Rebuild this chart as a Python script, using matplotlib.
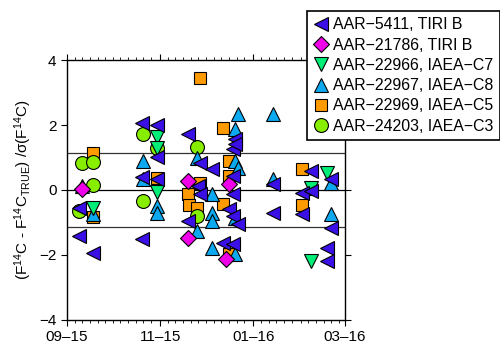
import pandas as pd
import matplotlib.pyplot as plt
import matplotlib.dates as mdates

plt.rcParams['font.family'] = ['Liberation Sans', 'DejaVu Sans']
plt.rcParams['mathtext.default'] = 'regular'

# AAR-5411, TIRI B
dates_5411 = ['2015-09-09', '2015-09-09', '2015-09-18', '2015-10-20', '2015-10-20', '2015-10-20',
              '2015-10-30', '2015-10-30', '2015-10-30', '2015-11-19', '2015-11-19', '2015-11-27',
              '2015-11-26', '2015-11-27', '2015-12-05', '2015-12-12', '2015-12-16', '2015-12-19',
              '2015-12-19', '2015-12-19', '2015-12-19', '2015-12-19', '2015-12-20', '2015-12-20',
              '2015-12-22', '2016-01-14', '2016-01-14', '2016-02-02', '2016-02-02', '2016-02-08',
              '2016-02-08', '2016-02-18', '2016-02-18', '2016-02-21', '2016-02-21']
vals_5411 = [-0.55, -1.42, -1.94, 2.07, 0.40, -1.50,
             2.00, 1.00, 0.34, 1.73, -0.96, 0.83,
             0.12, -0.12, 0.65, -1.64, -0.59, 1.27,
             0.43, -0.12, -0.80, -1.67, 1.57, 1.42,
             -1.05, 0.19, -0.71, -0.09, -0.74, 0.59,
             -0.03, -1.79, -2.19, 0.34, -1.17]

# AAR-21786, TIRI B
dates_21786 = ['2015-09-11', '2015-11-19', '2015-11-19', '2015-12-16', '2015-12-14']
vals_21786 = [0.03, 0.28, -1.48, 0.19, -2.13]

# AAR-22966, IAEA-C7
dates_22966 = ['2015-09-18', '2015-10-30', '2015-10-30', '2015-10-30', '2016-02-08', '2016-02-08',
               '2016-02-18']
vals_22966 = [-0.55, 1.64, 1.30, -0.05, 0.05, -2.19, 0.52]

# AAR-22967, IAEA-C8
dates_22967 = ['2015-09-11', '2015-09-18', '2015-10-21', '2015-10-21', '2015-10-30', '2015-10-30',
               '2015-11-25', '2015-11-25', '2015-12-05', '2015-12-05', '2015-12-05', '2015-12-05',
               '2015-12-20', '2015-12-20', '2015-12-20', '2015-12-20', '2015-12-22', '2015-12-22',
               '2016-01-14', '2016-01-14', '2016-02-08', '2016-02-21', '2016-02-21']
vals_22967 = [0.12, -0.75, 0.90, 0.34, -0.50, -0.70,
              0.99, -1.27, -0.12, -0.70, -0.96, -1.79,
              1.88, 0.90, -0.85, -1.97, 2.34, 0.68,
              2.34, 0.34, 0.05, 0.22, -0.74]

# AAR-22969, IAEA-C5
dates_22969 = ['2015-09-18', '2015-09-18', '2015-10-30', '2015-11-19', '2015-11-20', '2015-11-25',
               '2015-11-27', '2015-11-27', '2015-12-12', '2015-12-12', '2015-12-16', '2015-12-16',
               '2015-12-16', '2016-02-02', '2016-02-02']
vals_22969 = [1.14, -0.83, 0.37, -0.12, -0.45, -0.55,
              3.46, 0.22, 1.90, -0.43, 0.90, 0.43,
              -1.97, 0.65, -0.46]

# AAR-24203, IAEA-C3
dates_24203 = ['2015-09-09', '2015-09-11', '2015-09-18', '2015-09-18', '2015-10-21', '2015-10-21',
               '2015-10-30', '2015-11-25', '2015-11-25']
vals_24203 = [-0.65, 0.83, 0.86, 0.15, 1.73, -0.35, 1.30, 1.33, -0.80]

sigma_band = 1.14

# label, dates, values, marker, colour, size, zorder
series = [
    ('AAR\u22125411, TIRI B', dates_5411, vals_5411, '<', '#3a10e6', 10.5, 8),
    ('AAR\u221221786, TIRI B', dates_21786, vals_21786, 'D', '#f000e8', 8, 7),
    ('AAR\u221222966, IAEA\u2212C7', dates_22966, vals_22966, 'v', '#00ee77', 10.5, 6),
    ('AAR\u221222967, IAEA\u2212C8', dates_22967, vals_22967, '^', '#0ca8f0', 10.5, 5),
    ('AAR\u221222969, IAEA\u2212C5', dates_22969, vals_22969, 's', '#ff9a00', 8.5, 3),
    ('AAR\u221224203, IAEA\u2212C3', dates_24203, vals_24203, 'o', '#88ee00', 10, 4),
]

fig = plt.figure(figsize=(5.0, 3.47), dpi=100)
ax = fig.add_axes([0.134, 0.078, 0.556, 0.749])

ax.axhline(0, color='black', lw=0.9, zorder=1)
ax.axhline(sigma_band, color='#333333', lw=0.9, zorder=1)
ax.axhline(-sigma_band, color='#333333', lw=0.9, zorder=1)

for label, d, v, m, c, ms, z in series:
    ax.plot(pd.to_datetime(d), v, linestyle='none', marker=m, markersize=ms,
            markerfacecolor=c, markeredgecolor='black', markeredgewidth=0.8,
            label=label, zorder=z)

ax.set_xlim(pd.Timestamp('2015-09-01'), pd.Timestamp('2016-03-01'))
ax.set_ylim(-4, 4)
ax.set_yticks([-4, -2, 0, 2, 4])
ax.xaxis.set_major_locator(mdates.MonthLocator(bymonth=[1, 3, 9, 11]))
ax.xaxis.set_major_formatter(mdates.DateFormatter('%m\u2013%y'))
ax.xaxis.set_minor_locator(mdates.DayLocator(bymonthday=[1, 6, 11, 16, 21, 26]))

ax.tick_params(axis='both', which='major', direction='out', length=4, width=0.8,
               labelsize=11, top=True, right=True)
ax.tick_params(axis='x', which='minor', direction='out', length=2.5, width=0.6, top=True)
for s in ax.spines.values():
    s.set_linewidth(1.0)

ax.set_ylabel('(F$^{14}$C - F$^{14}$C$_{TRUE}$) /\u03c3(F$^{14}$C)', fontsize=11, labelpad=4)

leg = fig.legend(loc='upper right', bbox_to_anchor=(1.0, 0.968), bbox_transform=fig.transFigure,
                 fontsize=11.4, frameon=True, fancybox=False, framealpha=1,
                 edgecolor='black', handlelength=0.9, handletextpad=0.35,
                 labelspacing=0.33, borderpad=0.4, borderaxespad=0)
leg.get_frame().set_linewidth(1.2)

fig.savefig('out.png', dpi=100)
